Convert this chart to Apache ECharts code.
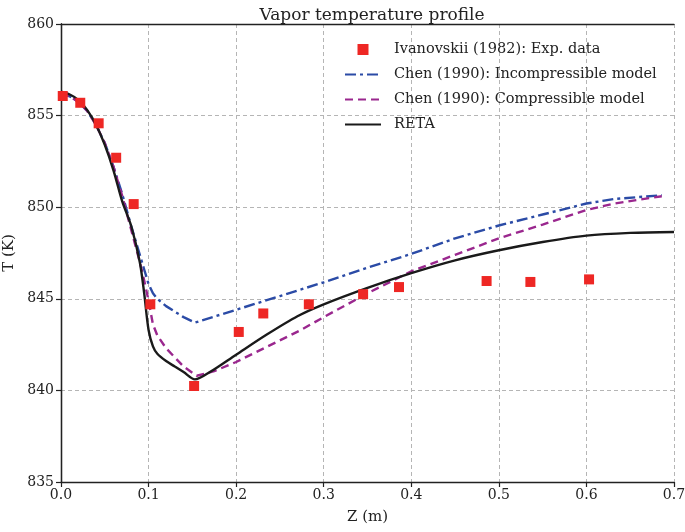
<!DOCTYPE html>
<html>
<head>
<meta charset="utf-8">
<script src="https://cdn.jsdelivr.net/npm/echarts@6/dist/echarts.min.js"></script>
<style>html,body{margin:0;padding:0;background:#fff}#c{width:685px;height:532px}</style>
</head>
<body>
<div id="c"></div>
<script>
// Experimental data: Ivanovskii (1982)
const expZ = [0.002, 0.022, 0.043, 0.063, 0.083, 0.102, 0.152, 0.203, 0.231, 0.283, 0.345, 0.386, 0.486, 0.536, 0.603];
const expT = [856.07, 855.7, 854.58, 852.7, 850.17, 844.7, 840.24, 843.19, 844.2, 844.7, 845.25, 845.64, 845.97, 845.92, 846.06];

// Chen (1990): Incompressible model
const incZ = [0, 0.01, 0.02, 0.03, 0.04, 0.05, 0.06, 0.07, 0.08, 0.09, 0.095, 0.1, 0.105, 0.11, 0.12, 0.13, 0.14, 0.153, 0.2, 0.25, 0.3, 0.35, 0.4, 0.45, 0.5, 0.55, 0.6, 0.632, 0.686];
const incT = [856.2, 856.05, 855.75, 855.25, 854.5, 853.5, 852.2, 850.7, 849.0, 847.4, 846.6, 845.8, 845.3, 845.0, 844.6, 844.3, 844.0, 843.7, 844.4, 845.15, 845.9, 846.7, 847.45, 848.3, 849.0, 849.6, 850.2, 850.45, 850.65];

// Chen (1990): Compressible model
const cmpZ = [0, 0.01, 0.02, 0.03, 0.04, 0.05, 0.06, 0.07, 0.08, 0.09, 0.095, 0.1, 0.105, 0.11, 0.12, 0.13, 0.14, 0.155, 0.175, 0.2, 0.236, 0.274, 0.3, 0.35, 0.4, 0.45, 0.5, 0.55, 0.6, 0.632, 0.686];
const cmpT = [856.2, 856.05, 855.75, 855.25, 854.5, 853.5, 852.2, 850.6, 848.8, 847.0, 846.0, 844.9, 843.6, 843.0, 842.3, 841.8, 841.3, 840.8, 841.05, 841.55, 842.4, 843.3, 844.0, 845.3, 846.5, 847.4, 848.3, 849.05, 849.85, 850.2, 850.6];

// RETA
const retaZ = [0, 0.01, 0.02, 0.03, 0.04, 0.05, 0.06, 0.07, 0.08, 0.09, 0.095, 0.1, 0.105, 0.11, 0.12, 0.13, 0.14, 0.153, 0.17, 0.2, 0.235, 0.27, 0.3, 0.35, 0.4, 0.45, 0.5, 0.55, 0.6, 0.65, 0.7];
const retaT = [856.3, 856.15, 855.85, 855.3, 854.5, 853.4, 852.0, 850.3, 849.0, 847.0, 845.3, 843.3, 842.4, 842.0, 841.6, 841.3, 841.0, 840.6, 841.0, 841.95, 843.05, 844.05, 844.7, 845.6, 846.4, 847.1, 847.65, 848.1, 848.45, 848.6, 848.65];

const xTicks = [0, 0.1, 0.2, 0.3, 0.4, 0.5, 0.6, 0.7];
const yTicks = [835, 840, 845, 850, 855, 860];

const zip = (a, b) => a.map((v, i) => [v, b[i]]);
const FONT = '"DejaVu Serif", "Liberation Serif", serif';
const hideSym = {opacity: 0, color: 'transparent', borderColor: 'transparent', borderWidth: 0};

const chart = echarts.init(document.getElementById('c'), null, {renderer: 'canvas'});
chart.setOption({
  animation: false,
  backgroundColor: '#fff',
  title: {
    text: 'Vapor temperature profile',
    left: 367, top: 2, textAlign: 'center',
    textStyle: {fontFamily: FONT, fontSize: 17, fontWeight: 'normal', color: '#222'}
  },
  grid: {left: 61, right: 11, top: 24, bottom: 50, show: false, containLabel: false, outerBoundsMode: 'none'},
  legend: {
    orient: 'vertical', left: 339, top: 37, itemGap: 10,
    itemWidth: 36, itemHeight: 11,
    textStyle: {fontFamily: FONT, fontSize: 14.5, color: '#222', padding: [0, 0, 0, 8]},
    data: [
      {name: 'Ivanovskii (1982): Exp. data', icon: 'path://M0,0L10,0L10,10L0,10Z'},
      {name: 'Chen (1990): Incompressible model', itemStyle: hideSym},
      {name: 'Chen (1990): Compressible model', itemStyle: hideSym},
      {name: 'RETA', itemStyle: hideSym}
    ]
  },
  xAxis: [{
    type: 'value', min: xTicks[0], max: xTicks[xTicks.length - 1], interval: 0.1,
    name: 'Z (m)', nameLocation: 'middle', nameGap: 28,
    nameTextStyle: {fontFamily: FONT, fontSize: 15, color: '#222'},
    axisLine: {show: true, lineStyle: {color: '#222', width: 1.3}},
    axisTick: {show: true, length: 5, lineStyle: {color: '#222', width: 1.2}},
    axisLabel: {fontFamily: FONT, fontSize: 14, color: '#222', margin: 6, formatter: v => v.toFixed(1)},
    splitLine: {show: true, lineStyle: {color: '#b5b5b5', width: 1, type: [4, 3]}}
  }, {
    type: 'value', position: 'top', min: xTicks[0], max: xTicks[xTicks.length - 1], interval: 0.1,
    axisLine: {show: true, lineStyle: {color: '#222', width: 1.3}},
    axisTick: {show: false}, axisLabel: {show: false}, splitLine: {show: false}
  }],
  yAxis: [{
    type: 'value', min: yTicks[0], max: yTicks[yTicks.length - 1], interval: 5,
    name: 'T (K)', nameLocation: 'middle', nameGap: 37, nameRotate: 90,
    nameTextStyle: {fontFamily: FONT, fontSize: 15, color: '#222'},
    axisLine: {show: true, lineStyle: {color: '#222', width: 1.3}},
    axisTick: {show: true, length: 5, lineStyle: {color: '#222', width: 1.2}},
    axisLabel: {fontFamily: FONT, fontSize: 14, color: '#222', margin: 7},
    splitLine: {show: true, lineStyle: {color: '#b5b5b5', width: 1, type: [4, 3]}}
  }, {
    type: 'value', position: 'right', min: yTicks[0], max: yTicks[yTicks.length - 1], interval: 5,
    axisLine: {show: true, lineStyle: {color: '#222', width: 1.3}},
    axisTick: {show: false}, axisLabel: {show: false}, splitLine: {show: false}
  }],
  series: [
    {
      name: 'Ivanovskii (1982): Exp. data', type: 'scatter', data: zip(expZ, expT),
      symbol: 'rect', symbolSize: 10, itemStyle: {color: '#ee2724', opacity: 1}, z: 5
    },
    {
      name: 'Chen (1990): Incompressible model', type: 'line', data: zip(incZ, incT),
      showSymbol: false, symbol: 'none', smooth: false,
      lineStyle: {color: '#2b4ba6', width: 2.4, type: [11, 4, 3, 4]}, itemStyle: {color: '#2b4ba6'}, z: 3
    },
    {
      name: 'Chen (1990): Compressible model', type: 'line', data: zip(cmpZ, cmpT),
      showSymbol: false, symbol: 'none', smooth: false,
      lineStyle: {color: '#9a278e', width: 2.4, type: [8, 5]}, itemStyle: {color: '#9a278e'}, z: 3
    },
    {
      name: 'RETA', type: 'line', data: zip(retaZ, retaT),
      showSymbol: false, symbol: 'none', smooth: 0.3,
      lineStyle: {color: '#1a1a1a', width: 2.4}, itemStyle: {color: '#1a1a1a'}, z: 4
    }
  ]
});
</script>
</body>
</html>
